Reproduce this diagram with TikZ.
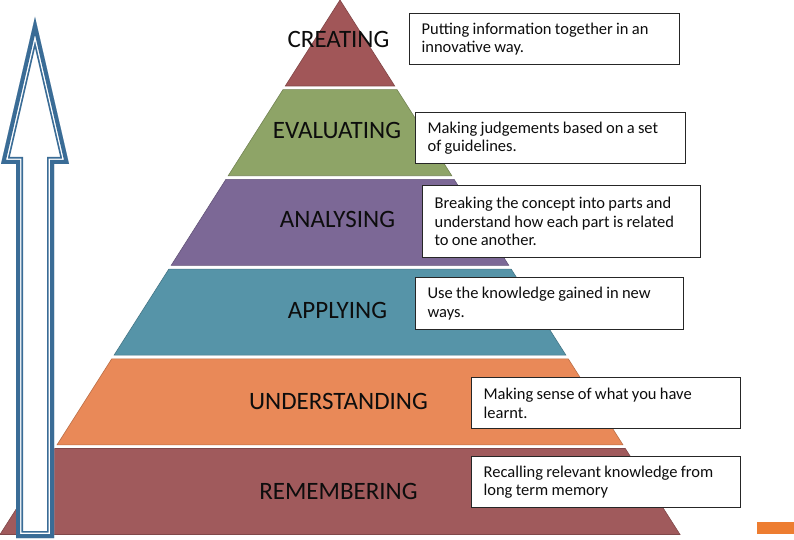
\documentclass[tikz,border=0pt]{standalone}
\usepackage{fontspec}
\setmainfont{Carlito}
% tight interword space for the description boxes
\DeclareRobustCommand\tightspace{\spaceskip=3.3pt plus 0.5pt minus 0.3pt\relax}
\begin{document}
\begin{tikzpicture}[x=1pt,y=-1pt,
  level/.style={fill=#1, draw=#1!80!black, line width=0.6pt, line join=miter},
  levellabel/.style={text=black!95, font=\fontsize{25}{30}\selectfont, inner sep=0pt, anchor=center},
  infobox/.style={draw=black!85, line width=1.2pt, fill=white, anchor=north west,
    align=left, inner xsep=12pt, inner ysep=4pt, font=\fontsize{16.5}{18.5}\selectfont,
    execute at begin node=\tightspace, text=black!95},
]
\definecolor{creatC}{RGB}{161,86,88}
\definecolor{evalC}{RGB}{142,164,103}
\definecolor{analC}{RGB}{124,104,150}
\definecolor{applC}{RGB}{86,148,168}
\definecolor{undC}{RGB}{233,137,88}
\definecolor{remC}{RGB}{160,90,92}
\definecolor{arrowC}{RGB}{58,108,150}
\definecolor{markC}{RGB}{237,125,49}

% canvas
\fill[white] (0,0) rectangle (794,540);
\useasboundingbox (0,0) rectangle (794,540);

% pyramid levels: apex at x=340, sides with slope 0.6361, pitch 89.7, height 86
\foreach \k/\col in {0/creatC,1/evalC,2/analC,3/applC,4/undC,5/remC}{
  \pgfmathsetmacro\tp{\k*89.7}
  \pgfmathsetmacro\bt{\k*89.7+86}
  \path[level=\col] ({340-0.6361*\tp},\tp) -- ({340+0.6361*\tp},\tp)
     -- ({340+0.6361*\bt},\bt) -- ({340-0.6361*\bt},\bt) -- cycle;
}

% level names
\node[levellabel] (creating)      at (338.5,39.5)  {CREATING};
\node[levellabel] (evaluating)    at (337,130)     {EVALUATING};
\node[levellabel] (analysing)     at (337.5,219)   {ANALYSING};
\node[levellabel] (applying)      at (337.5,310)   {APPLYING};
\node[levellabel] (understanding) at (338.5,401)   {UNDERSTANDING};
\node[levellabel] (remembering)   at (338.5,491)   {REMEMBERING};

% descriptions
\node[infobox, minimum width=270pt, minimum height=51pt, text width=246pt] (d1) at (409,13)
  {Putting information together in an\\innovative way.};
\node[infobox, minimum width=270pt, minimum height=51pt, text width=246pt] (d2) at (415,112)
  {Making judgements based on a set\\of guidelines.};
\node[infobox, minimum width=278pt, minimum height=72pt, text width=254pt] (d3) at (422,185)
  {Breaking the concept into parts and\\understand how each part is related\\to one another.};
\node[infobox, minimum width=268pt, minimum height=52pt, text width=244pt] (d4) at (415,277)
  {Use the knowledge gained in new\\ways.};
\node[infobox, minimum width=269pt, minimum height=51pt, text width=245pt] (d5) at (471,377)
  {Making sense of what you have\\learnt.};
\node[infobox, minimum width=269pt, minimum height=51pt, text width=245pt] (d6) at (471,456)
  {Recalling relevant knowledge from\\long term memory};

% upward block arrow with a double outline
\begin{scope}
  \clip (35,17) -- (69,164) -- (54,164) -- (54,538) -- (16,538) -- (16,164) -- (1,164) -- cycle;
  \fill[white] (35,17) -- (69,164) -- (54,164) -- (54,538) -- (16,538) -- (16,164) -- (1,164) -- cycle;
  \draw[arrowC, line width=14pt] (35,17) -- (69,164) -- (54,164) -- (54,538) -- (16,538) -- (16,164) -- (1,164) -- cycle;
  \draw[white, line width=10.6pt] (35,17) -- (69,164) -- (54,164) -- (54,538) -- (16,538) -- (16,164) -- (1,164) -- cycle;
  \draw[arrowC, line width=8pt] (35,17) -- (69,164) -- (54,164) -- (54,538) -- (16,538) -- (16,164) -- (1,164) -- cycle;
\end{scope}

% small corner mark
\fill[markC] (757,522) rectangle (794,534);
\end{tikzpicture}
\end{document}
